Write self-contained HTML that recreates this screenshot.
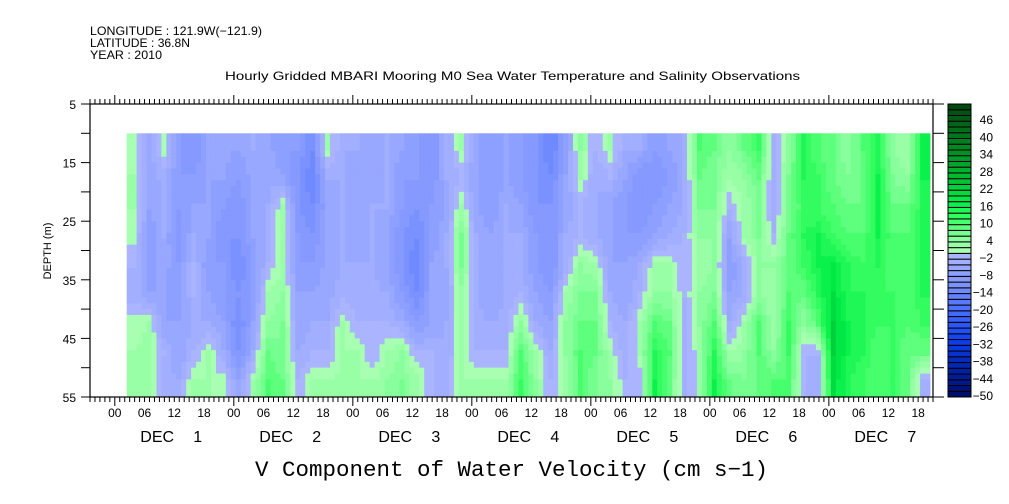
<!DOCTYPE html>
<html><head><meta charset="utf-8">
<style>
html,body{margin:0;padding:0;background:#fff;}
svg{display:block;font-family:"Liberation Sans",sans-serif;}
</style></head>
<body>
<svg id="chart" width="1009" height="504" viewBox="0 0 1009 504" xmlns="http://www.w3.org/2000/svg">
  <text x="90" y="35" font-size="12" textLength="172" lengthAdjust="spacingAndGlyphs">LONGITUDE : 121.9W(−121.9)</text>
  <text x="90" y="47" font-size="12" textLength="100" lengthAdjust="spacingAndGlyphs">LATITUDE : 36.8N</text>
  <text x="90" y="59" font-size="12" textLength="72" lengthAdjust="spacingAndGlyphs">YEAR : 2010</text>
  <text x="225" y="80" font-size="12" textLength="575" lengthAdjust="spacingAndGlyphs">Hourly Gridded MBARI Mooring M0 Sea Water Temperature and Salinity Observations</text>
  <text x="255" y="476" font-size="22" textLength="513" lengthAdjust="spacingAndGlyphs" font-family="Liberation Mono, monospace">V Component of Water Velocity (cm s−1)</text>
  <text transform="translate(51,251) rotate(-90)" font-size="11" text-anchor="middle">DEPTH (m)</text>
  <g id="cells"></g>
  <g id="axes"></g>
  <g id="cbar"></g>
</svg>
<script>
// hours since Dec 1 00:00 of each column start, column width 3 h
const colStartHour = 2.4;
const colHours = 3;
const depthEdges = [10,15,20,25,30,35,40,45,50,55];
const values = [
[1,2,2,1,-2,-3,1,2,2],
[-5,-6,-6,-8,-8,-6,2,3,2],
[1,-3,-4,-4,-5,-6,-6,-2,-3],
[-8,-8,-8,-10,-8,-8,-6,-6,-4],
[-10,-8,-6,-4,-2,-2,-4,-2,2],
[-6,-6,-6,-6,-8,-6,-4,2,2],
[-5,-6,-8,-10,-8,-8,-6,-4,1],
[-6,-8,-10,-10,-12,-10,-12,-10,-6],
[-4,-5,-6,-6,-8,-8,-6,-4,2],
[-5,-5,-4,-4,-2,2,4,8,10],
[-8,-6,2,3,2,4,6,6,8],
[-8,-10,-10,-8,-8,-6,-6,-4,-2],
[-12,-14,-12,-10,-8,-6,-4,-2,2],
[2,-4,-6,-6,-5,-5,-4,-2,2],
[-4,-4,-4,-4,-4,-3,2,2,3],
[-4,-5,-5,-5,-4,-3,-2,2,2],
[-5,-5,-4,-4,-4,-3,-2,-2,2],
[-4,-4,-4,-6,-6,-4,-2,2,4],
[-6,-8,-8,-10,-10,-8,-4,4,6],
[-8,-8,-10,-12,-14,-12,-8,-2,3],
[-10,-10,-8,-8,-6,-6,-6,-2,-2],
[-4,-4,-6,-4,-4,-5,-4,-4,-3],
[2,-2,2,6,6,3,2,2,2],
[-6,-6,-6,-4,-4,-4,-3,-2,2],
[-8,-8,-8,-6,-6,-6,-4,-2,2],
[-6,-6,-4,-4,-4,-4,-3,-2,2],
[-8,-8,-6,-4,-4,-2,4,10,12],
[-10,-10,-10,-8,-8,-6,-4,2,4],
[-14,-12,-10,-10,-10,-8,-6,-4,-2],
[-8,-6,-6,-4,-4,2,4,4,2],
[4,2,-2,-2,4,6,8,10,10],
[-2,-4,-4,-4,2,6,8,8,6],
[2,-2,-6,-6,-6,-4,-2,2,4],
[-4,-6,-8,-8,-6,-6,-4,-4,-2],
[-4,-10,-10,-8,-4,-2,2,2,-2],
[-8,-10,-8,-6,2,4,10,14,16],
[-6,-8,-6,-4,2,4,8,10,8],
[-4,-4,-4,-2,-2,-2,-4,-4,-4],
[10,8,6,4,2,4,4,2,2],
[8,6,6,4,4,6,10,14,16],
[4,2,-2,-6,-8,-6,-4,2,8],
[8,4,2,2,-4,-4,2,4,6],
[12,8,6,6,4,4,10,10,8],
[-4,-4,-4,-2,4,2,2,4,10],
[4,6,6,8,8,10,12,12,10],
[14,14,12,14,12,8,4,-2,-2],
[10,12,12,16,16,14,10,-2,-4],
[8,8,10,12,18,20,22,22,20],
[4,6,8,10,14,14,16,16,14],
[10,8,8,10,12,14,14,14,12],
[14,16,16,16,14,12,12,10,10],
[4,6,8,10,10,12,12,12,12],
[2,4,8,10,10,10,10,8,8],
[16,16,14,14,14,14,12,8,-4]
];
const depthTicks = [5,15,25,35,45,55];
const hourLabels = ["00","06","12","18"];
const dayNumbers = ["1","2","3","4","5","6","7"];
const cbarLabels = [-50,-44,-38,-32,-26,-20,-14,-8,-2,4,10,16,22,28,34,40,46];
const levelMin = -50, levelMax = 52, levelStep = 2;

const NS="http://www.w3.org/2000/svg";
const X0=90, X1=933, Y0=104, Y1=397;
const hMin=-5, hMax=165;
const xScale = h => X0 + (h-hMin)/(hMax-hMin)*(X1-X0);
const yScale = d => Y0 + (d-5)/(55-5)*(Y1-Y0);
function mk(tag, attrs, parent){const e=document.createElementNS(NS,tag);for(const k in attrs)e.setAttribute(k,attrs[k]);parent.appendChild(e);return e;}
function lerp(a,b,t){return a.map((v,i)=>Math.round(v+(b[i]-v)*t));}
const negStops=[[0,[176,184,255]],[-10,[128,150,255]],[-20,[72,110,255]],[-30,[16,64,240]],[-40,[0,36,170]],[-50,[0,10,100]]];
const posStops=[[0,[176,255,184]],[6,[128,255,150]],[12,[60,255,100]],[18,[0,238,70]],[26,[0,190,50]],[36,[0,140,36]],[52,[0,68,16]]];
function colorFor(v){
  let lv=Math.floor(v/levelStep)*levelStep; let mid=lv+1;
  const stops = mid<0?negStops:posStops;
  for(let i=0;i<stops.length-1;i++){
    const a=stops[i],b=stops[i+1];
    const lo=Math.min(a[0],b[0]),hi=Math.max(a[0],b[0]);
    if(mid>=lo&&mid<=hi){const c=lerp(a[1],b[1],(mid-a[0])/(b[0]-a[0]));return `rgb(${c[0]},${c[1]},${c[2]})`;}
  }
  const c=stops[stops.length-1][1];return `rgb(${c[0]},${c[1]},${c[2]})`;
}
function sample(ci,rj){
  const nC=values.length,nR=values[0].length;
  ci=Math.max(0,Math.min(nC-1,ci)); rj=Math.max(0,Math.min(nR-1,rj));
  const i0=Math.floor(ci),j0=Math.floor(rj),i1=Math.min(nC-1,i0+1),j1=Math.min(nR-1,j0+1);
  const fx=ci-i0,fy=rj-j0;
  const a=values[i0][j0]*(1-fx)+values[i1][j0]*fx;
  const b=values[i0][j1]*(1-fx)+values[i1][j1]*fx;
  return a*(1-fy)+b*fy;
}
const cells=document.getElementById('cells');
const SX=3, SY=5;
values.forEach((col,i)=>{
  col.forEach((v,j)=>{
    for(let a=0;a<SX;a++){
      for(let b=0;b<SY;b++){
        const h0=colStartHour+(i+a/SX)*colHours;
        const h1=Math.min(colStartHour+(i+(a+1)/SX)*colHours,hMax);
        if(h0>=hMax) continue;
        const d0=depthEdges[j]+(depthEdges[j+1]-depthEdges[j])*b/SY;
        const d1=depthEdges[j]+(depthEdges[j+1]-depthEdges[j])*(b+1)/SY;
        const sv=sample(i+(a+0.5)/SX-0.5, j+(b+0.5)/SY-0.5);
        const x=xScale(h0), y=yScale(d0);
        const r=mk('rect',{x:x,y:y,width:xScale(h1)-x+0.4,height:yScale(d1)-y+0.4,fill:colorFor(sv)},cells);
        
        
      }
    }
  });
});
const ax=document.getElementById('axes');
mk('rect',{x:X0,y:Y0,width:X1-X0,height:Y1-Y0,fill:'none',stroke:'#000','stroke-width':1.2},ax);
for(let h=hMin;h<=hMax;h++){
  const x=xScale(h); const major=((h%24)+24)%24===0;
  mk('line',{x1:x,y1:Y0,x2:x,y2:Y0-(major?9:5),stroke:'#000','stroke-width':1},ax);
  mk('line',{x1:x,y1:Y1,x2:x,y2:Y1+(major?9:5),stroke:'#000','stroke-width':1},ax);
  if(((h%6)+6)%6===0 && h>=0){
    const t=mk('text',{x:x,y:Y1+20,'font-size':12,'text-anchor':'middle'},ax);
    t.textContent=hourLabels[(h%24)/6];
    
    
  }
}
dayNumbers.forEach((d,i)=>{
  const cx=xScale(i*24+12);
  const t=mk('text',{y:Y1+45,'font-size':16},ax);
  
  
  const s1=mk('tspan',{x:cx-34},t); s1.textContent='DEC';
  const s2=mk('tspan',{x:cx+19},t); s2.textContent=d;
});
for(let d=5;d<=55;d+=5){
  const y=yScale(d);
  mk('line',{x1:X0,y1:y,x2:X0-9,y2:y,stroke:'#000'},ax);
  mk('line',{x1:X1,y1:y,x2:X1+11,y2:y,stroke:'#000'},ax);
}
depthTicks.forEach(d=>{
  const t=mk('text',{x:X0-14,y:yScale(d)+5,'font-size':12,'text-anchor':'end'},ax);
  t.textContent=d;
  
  
});
const cb=document.getElementById('cbar');
const CX=948,CW=23;
const nLev=(levelMax-levelMin)/levelStep;
const cbY=v=>Y1-(v-levelMin)/(levelMax-levelMin)*(Y1-Y0);
for(let k=0;k<nLev;k++){
  const v=levelMin+k*levelStep;
  const r=mk('rect',{x:CX,y:cbY(v+levelStep),width:CW,height:cbY(v)-cbY(v+levelStep),fill:colorFor(v+1),stroke:'#000','stroke-width':1},cb);
  
  
}
cbarLabels.forEach(v=>{
  const t=mk('text',{x:993,y:cbY(v)+3,'font-size':12,'text-anchor':'end'},cb);
  t.textContent=v<0?'−'+(-v):String(v);
  
  
});
</script>
</body></html>
